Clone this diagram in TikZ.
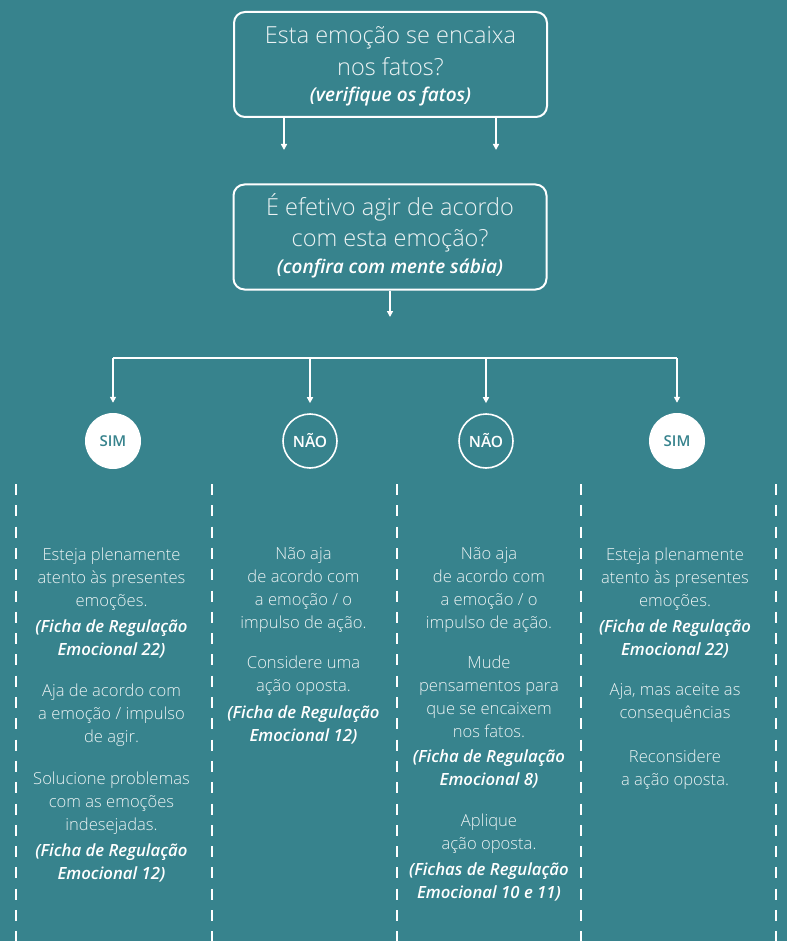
\documentclass[tikz,border=0pt]{standalone}
\usepackage{fontspec}
\setmainfont{Open Sans}[UprightFont=* Light]
\usetikzlibrary{arrows.meta}
\definecolor{tealbg}{RGB}{55,131,141}
\definecolor{softwhite}{RGB}{236,243,244}
\tikzset{
  qbox/.style={draw=white, line width=2pt, rounded corners=11pt, minimum width=313pt, minimum height=105pt, inner sep=0pt},
  qtxt/.style={align=center, anchor=base, inner sep=0pt, text=softwhite, font=\fontsize{23.5}{32}\selectfont},
  qsub/.style={anchor=base, inner sep=0pt, text=white, font=\bfseries\itshape\fontsize{19}{21}\selectfont},
  flow/.style={draw=white, line width=1.5pt, -{Triangle[length=6pt,width=6pt]}},
  simnode/.style={circle, fill=white, minimum size=56pt, inner sep=0pt, text=tealbg, font=\bfseries\fontsize{15}{18}\selectfont},
  naonode/.style={circle, draw=white, line width=1.6pt, minimum size=54pt, inner sep=0pt, text=white, font=\bfseries\fontsize{15.5}{18}\selectfont},
  col/.style={align=center, anchor=base, inner sep=0pt, text=softwhite, font=\fontsize{16.6}{22.7}\selectfont},
  ficha/.style={col, text=white, font=\bfseries\itshape\fontsize{16.8}{23}\selectfont},
  sep/.style={white, line width=2.6pt, dash pattern=on 11pt off 10.3pt}
}
\begin{document}
\begin{tikzpicture}[x=1pt,y=-1pt]
\fill[tealbg] (0,0) rectangle (787,941);
\useasboundingbox (0,0) rectangle (787,941);

% questions (base = last line)
\node[qbox] (box1) at (390.5,64.5) {};
\node[qtxt] (q1) at (390.5,76) {Esta emoção se encaixa\\nos fatos?};
\node[qsub] (q1s) at (390.5,102) {(verifique os fatos)};
\node[qbox] (box2) at (390,237) {};
\node[qtxt] (q2) at (390,247) {É efetivo agir de acordo\\com esta emoção?};
\node[qsub] (q2s) at (390,273) {(confira com mente sábia)};

\coordinate (a1) at (284,150);
\coordinate (a2) at (496,150);
\coordinate (a3) at (390,317);
\draw[flow] (box1.south -| a1) -- (a1);
\draw[flow] (box1.south -| a2) -- (a2);
\draw[flow] (box2.south -| a3) -- (a3);

% answers
\node[simnode] (sim1) at (113,441) {SIM};
\node[naonode] (nao1) at (310,441) {NÃO};
\node[naonode] (nao2) at (486,441) {NÃO};
\node[simnode] (sim2) at (677,441) {SIM};

\coordinate (bar) at (390,358);
\draw[white, line width=1.5pt] (bar -| sim1) -- (bar -| sim2);
\foreach \n in {sim1,nao1,nao2,sim2}
  \draw[flow] (bar -| \n) -- ([yshift=10pt]\n.north);

% separators
\foreach \x in {16,212,397,581,776}
  \draw[sep] (\x,484) -- (\x,941);

% column 1
\node[col] (c1a) at (111.5,606) {Esteja plenamente\\atento às presentes\\emoções.};
\node[ficha] (c1b) at (111.5,655) {(Ficha de Regulação\\Emocional 22)};
\node[col] (c1c) at (111.5,742) {Aja de acordo com\\a emoção / impulso\\de agir.};
\node[col] (c1d) at (111.5,830) {Solucione problemas\\com as emoções\\indesejadas.};
\node[ficha] (c1e) at (111.5,879) {(Ficha de Regulação\\Emocional 12)};

% column 2
\node[col] (c2a) at (303.5,628) {Não aja\\de acordo com\\a emoção / o\\impulso de ação.};
\node[col] (c2b) at (303.5,691) {Considere uma\\ação oposta.};
\node[ficha] (c2c) at (303.5,741) {(Ficha de Regulação\\Emocional 12)};

% column 3
\node[col] (c3a) at (489,628) {Não aja\\de acordo com\\a emoção / o\\impulso de ação.};
\node[col] (c3b) at (489,737) {Mude\\pensamentos para\\que se encaixem\\nos fatos.};
\node[ficha] (c3c) at (489,785) {(Ficha de Regulação\\Emocional 8)};
\node[col] (c3d) at (489,849) {Aplique\\ação oposta.};
\node[ficha] (c3e) at (489,898) {(Fichas de Regulação\\Emocional 10 e 11)};

% column 4
\node[col] (c4a) at (675,606) {Esteja plenamente\\atento às presentes\\emoções.};
\node[ficha] (c4b) at (675,655) {(Ficha de Regulação\\Emocional 22)};
\node[col] (c4c) at (675,718) {Aja, mas aceite as\\consequências};
\node[col] (c4d) at (675,785) {Reconsidere\\a ação oposta.};
\end{tikzpicture}
\end{document}
